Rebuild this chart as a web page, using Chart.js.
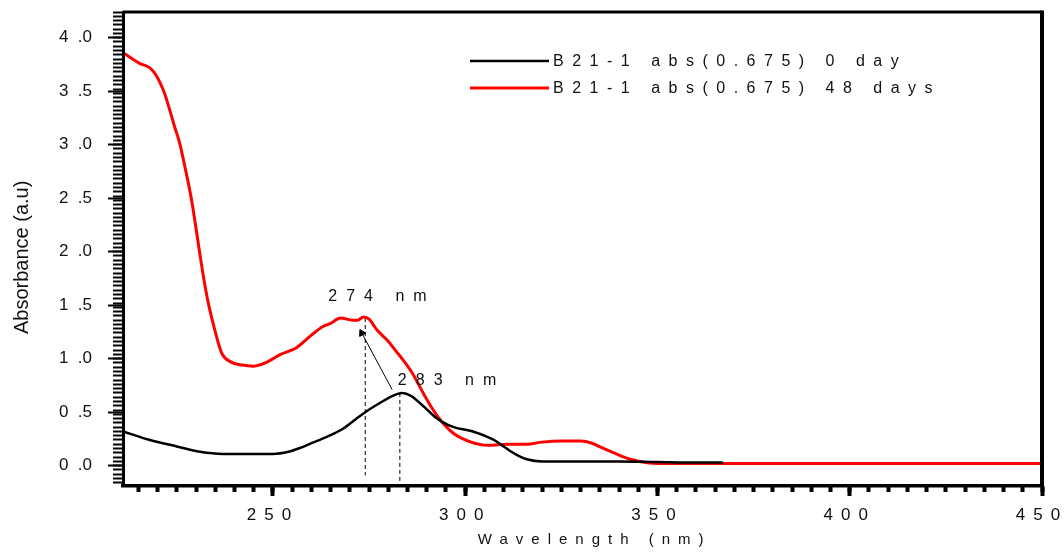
<!DOCTYPE html>
<html lang="en">
<head>
<meta charset="UTF-8">
<title>B21-1 Absorbance</title>
<script src="https://cdn.jsdelivr.net/npm/chart.js"></script>
<style>
  html, body { margin: 0; padding: 0; background: #fff; }
  #wrap { width: 1064px; height: 552px; }
</style>
</head>
<body>
<div id="wrap"><canvas id="chartAbs"></canvas></div>
<script>
  // B21-1, 0 day
  const nmDay0  = [211, 218, 225, 231, 237, 244, 250, 254, 257, 260, 264, 268, 271, 274, 278, 281, 283.5, 286, 289, 292, 294, 297, 302, 305, 307.5, 310, 312, 314, 316, 320, 330, 340, 350, 360, 367];
  const absDay0 = [0.32, 0.24, 0.18, 0.13, 0.11, 0.11, 0.11, 0.13, 0.165, 0.21, 0.27, 0.34, 0.42, 0.50, 0.59, 0.65, 0.68, 0.65, 0.56, 0.46, 0.41, 0.36, 0.32, 0.28, 0.24, 0.18, 0.13, 0.09, 0.06, 0.04, 0.04, 0.04, 0.035, 0.03, 0.03];

  // B21-1, 48 days
  const nmDay48  = [211, 213.5, 215.3, 217.9, 219.2, 220.5, 221.8, 223.1, 224.4, 225.7, 227, 228.8, 230.9, 232, 233.3, 235, 236.7, 239, 242, 245, 248, 252, 256, 260, 263, 265, 267.6, 270.7, 272, 273.6, 275, 277, 279.8, 282, 284, 286.5, 289.2, 291.5, 293.7, 297, 301.5, 306, 311, 316, 320, 325, 330, 333, 335.4, 338, 340.6, 344, 350, 360, 400, 450];
  const absDay48 = [3.86, 3.80, 3.76, 3.72, 3.67, 3.59, 3.48, 3.33, 3.17, 3.02, 2.81, 2.49, 2.0, 1.75, 1.5, 1.25, 1.05, 0.97, 0.94, 0.93, 0.96, 1.04, 1.10, 1.22, 1.30, 1.33, 1.38, 1.36, 1.36, 1.39, 1.37, 1.27, 1.17, 1.07, 0.98, 0.85, 0.67, 0.53, 0.42, 0.30, 0.22, 0.19, 0.20, 0.20, 0.22, 0.23, 0.23, 0.21, 0.17, 0.13, 0.09, 0.05, 0.02, 0.02, 0.02, 0.02];

  // peak markers (dashed drop lines) and the shift arrow 283 -> 274
  const peakNm    = [274, 283];
  const peakAbs   = [1.38, 0.68];
  const dropTo    = [-0.09, -0.15];
  const arrowNm   = [281, 273.1];
  const arrowAbs  = [0.71, 1.24];

  const xTicks = [250, 300, 350, 400, 450];
  const yTicks = [0, 0.5, 1.0, 1.5, 2.0, 2.5, 3.0, 3.5, 4.0];

  const FONT = '"Liberation Sans", Arial, sans-serif';

  function pairs(xs, ys) {
    return xs.map((x, i) => ({ x: x, y: ys[i] }));
  }

  function stepTicks(from, to, step) {
    const out = [];
    for (let v = from; v <= to + 1e-9; v += step) out.push({ value: +v.toFixed(3) });
    return out;
  }

  // x labels/title are drawn before the datasets with wide letter spacing,
  // the y axis (z: 1) is drawn after them with normal spacing
  const spacing = {
    id: 'spacing',
    beforeDraw(chart) { chart.ctx.letterSpacing = '8px'; },
    afterDatasetsDraw(chart) { chart.ctx.letterSpacing = '0px'; }
  };

  // top and right border of the plot box
  const frame = {
    id: 'frame',
    afterDraw(chart) {
      const { left, top, right, bottom } = chart.chartArea;
      const ctx = chart.ctx;
      ctx.save();
      ctx.strokeStyle = '#000';
      ctx.lineWidth = 3;
      ctx.beginPath();
      ctx.moveTo(left, top);
      ctx.lineTo(right, top);
      ctx.stroke();
      ctx.lineWidth = 4;
      ctx.beginPath();
      ctx.moveTo(right, top - 1.5);
      ctx.lineTo(right, bottom);
      ctx.stroke();
      ctx.restore();
    }
  };

  const legendBox = {
    id: 'legendBox',
    afterDraw(chart) {
      const ctx = chart.ctx;
      const items = chart.data.datasets.filter(d => d.inLegend);
      ctx.save();
      ctx.font = '16px ' + FONT;
      ctx.letterSpacing = '8.5px';
      ctx.textBaseline = 'middle';
      ctx.textAlign = 'left';
      items.forEach((ds, i) => {
        const y = 61 + i * 27;
        ctx.strokeStyle = ds.borderColor;
        ctx.lineWidth = ds.borderWidth;
        ctx.beginPath();
        ctx.moveTo(470, y);
        ctx.lineTo(549, y);
        ctx.stroke();
        ctx.fillStyle = '#111';
        ctx.fillText(ds.label, 553, y + 1);
      });
      ctx.restore();
    }
  };

  const peakLabels = {
    id: 'peakLabels',
    afterDraw(chart) {
      const ctx = chart.ctx;
      const sx = chart.scales.x, sy = chart.scales.y;
      const shift = [[-37, -21], [-2, -12]];
      ctx.save();
      ctx.font = '16px ' + FONT;
      ctx.letterSpacing = '9px';
      ctx.textBaseline = 'middle';
      ctx.textAlign = 'left';
      ctx.fillStyle = '#111';
      peakNm.forEach((nm, i) => {
        const px = sx.getPixelForValue(nm);
        const py = sy.getPixelForValue(peakAbs[i]);
        ctx.fillText(nm + ' nm', px + shift[i][0], py + shift[i][1]);
      });
      ctx.restore();
    }
  };

  const datasets = [
    {
      label: 'B21-1 abs(0.675) 0 day',
      inLegend: true,
      data: pairs(nmDay0, absDay0),
      borderColor: '#000',
      borderWidth: 2.5,
      pointRadius: 0,
      cubicInterpolationMode: 'monotone'
    },
    {
      label: 'B21-1 abs(0.675) 48 days',
      inLegend: true,
      data: pairs(nmDay48, absDay48),
      borderColor: '#ff0000',
      borderWidth: 3,
      pointRadius: 0,
      cubicInterpolationMode: 'monotone'
    }
  ];

  peakNm.forEach((nm, i) => {
    datasets.push({
      data: [{ x: nm, y: peakAbs[i] }, { x: nm, y: dropTo[i] }],
      borderColor: '#000',
      borderWidth: 1,
      borderDash: [4, 3],
      pointRadius: 0
    });
  });

  datasets.push({
    data: pairs(arrowNm, arrowAbs),
    borderColor: '#000',
    backgroundColor: '#000',
    borderWidth: 1,
    pointRadius: [0, 4],
    pointStyle: 'triangle',
    rotation: -28
  });

  new Chart(document.getElementById('chartAbs'), {
    type: 'line',
    data: { datasets: datasets },
    options: {
      responsive: true,
      maintainAspectRatio: false,
      animation: false,
      layout: { padding: { left: 0, top: 12, right: 22, bottom: 0 } },
      plugins: {
        legend: { display: false },
        tooltip: { enabled: false }
      },
      scales: {
        x: {
          type: 'linear',
          position: 'bottom',
          weight: 1,
          min: 211,
          max: 450,
          afterBuildTicks: s => { s.ticks = xTicks.map(v => ({ value: v })); },
          afterFit: s => { s.height = 66; s.paddingLeft = 0; s.paddingRight = 0; },
          border: { display: true, color: '#000', width: 3.5 },
          grid: { drawOnChartArea: false, drawTicks: true, tickLength: 10, tickWidth: 4, tickColor: '#000' },
          ticks: { autoSkip: false, maxRotation: 0, padding: 9, color: '#111', font: { family: FONT, size: 17 }, callback: v => String(v) },
          title: { display: true, text: '  Wavelength (nm)', color: '#111', font: { family: FONT, size: 15 }, padding: { top: 0, bottom: 3 } }
        },
        xMinor: {
          type: 'linear',
          position: 'bottom',
          weight: 0,
          min: 211,
          max: 450,
          afterBuildTicks: s => { s.ticks = stepTicks(215, 450, 5); },
          afterFit: s => { s.height = 0; },
          border: { display: false },
          grid: { drawOnChartArea: false, drawTicks: true, tickLength: 6, tickWidth: 4, tickColor: '#000' },
          ticks: { display: false }
        },
        y: {
          type: 'linear',
          position: 'left',
          weight: 1,
          min: -0.19,
          max: 4.24,
          afterBuildTicks: s => { s.ticks = yTicks.map(v => ({ value: v })); },
          afterFit: s => { s.width = 123; s.paddingTop = 0; s.paddingBottom = 0; },
          border: { display: true, color: '#000', width: 3, z: 1 },
          grid: { z: 1, drawOnChartArea: false, drawTicks: true, tickLength: 15, tickWidth: 2, tickColor: '#000' },
          ticks: { z: 1, autoSkip: false, padding: 16, color: '#111', font: { family: FONT, size: 17 }, callback: v => v.toFixed(1).replace('.', '  .') },
          title: { display: true, text: 'Absorbance (a.u)   ', color: '#111', font: { family: FONT, size: 20 }, padding: { top: 10, bottom: 0 } }
        },
        yMinor: {
          type: 'linear',
          position: 'left',
          weight: 0,
          min: -0.19,
          max: 4.24,
          afterBuildTicks: s => { s.ticks = stepTicks(-0.16, 4.24, 0.04); },
          afterFit: s => { s.width = 0; s.paddingTop = 0; s.paddingBottom = 0; },
          border: { display: false },
          grid: { z: 1, drawOnChartArea: false, drawTicks: true, tickLength: 10, tickWidth: 2, tickColor: '#000' },
          ticks: { display: false }
        }
      }
    },
    plugins: [spacing, frame, legendBox, peakLabels]
  });
</script>
</body>
</html>
